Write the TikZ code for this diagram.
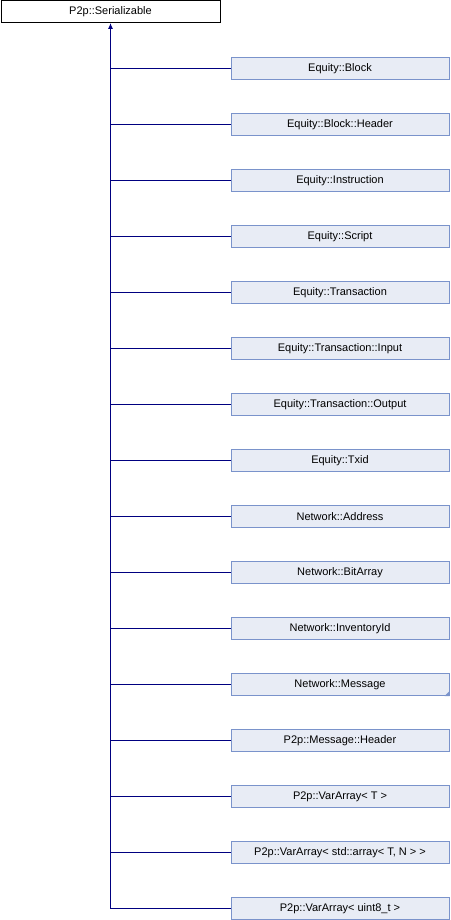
\documentclass[tikz,border=0pt]{standalone}
\usepackage{fontspec}
\setmainfont{Liberation Sans}
\usetikzlibrary{arrows.meta}
\definecolor{edgecol}{HTML}{000080}
\definecolor{boxfill}{HTML}{E8ECF5}
\definecolor{boxline}{HTML}{7A93CB}
\tikzstyle{baseclass}=[draw=black,fill=white,line width=1pt,
minimum width=219pt,minimum height=22pt,inner sep=0pt]
\tikzstyle{derived}=[draw=boxline,fill=boxfill,line width=1pt,
minimum width=218pt,minimum height=22pt,inner sep=0pt]
\tikzstyle{inherit}=[edgecol,line width=1pt]

\begin{document}
\begin{tikzpicture}[x=1pt,y=1pt,
  every node/.style={font=\fontsize{11}{13}\selectfont}]
  \useasboundingbox (0,0) rectangle (450,-920);
  % base class
  \node[baseclass] (ser) at (110.5,-11.5) {P2p::Serializable};
  % derived classes
  \foreach \name/\label [count=\i] in {
      blk/Equity::Block,
      blkhdr/Equity::Block::Header,
      instr/Equity::Instruction,
      script/Equity::Script,
      tx/Equity::Transaction,
      txin/Equity::Transaction::Input,
      txout/Equity::Transaction::Output,
      txid/Equity::Txid,
      addr/Network::Address,
      bits/Network::BitArray,
      invid/Network::InventoryId,
      msg/Network::Message,
      msghdr/P2p::Message::Header,
      varT/P2p::VarArray< T >,
      varTN/{P2p::VarArray< std::array< T, N > >},
      varU/P2p::VarArray< uint8\_t >}
  {
    \node[derived] (\name) at (340,{-68.5-56*(\i-1)}) {\label};
    \draw[inherit] (\name.west) -- (\name.west -| ser.south);
  }
  % trunk with arrow
  \coordinate (trunk) at (varU.west -| ser.south);
  \draw[inherit,-{Latex[length=6pt,width=5pt]}] (trunk) -- (ser.south);
  % more derived classes hidden
  \fill[boxline] (msg.south east) -- ++(-5,0) -- ++(5,5) -- cycle;
\end{tikzpicture}
\end{document}
